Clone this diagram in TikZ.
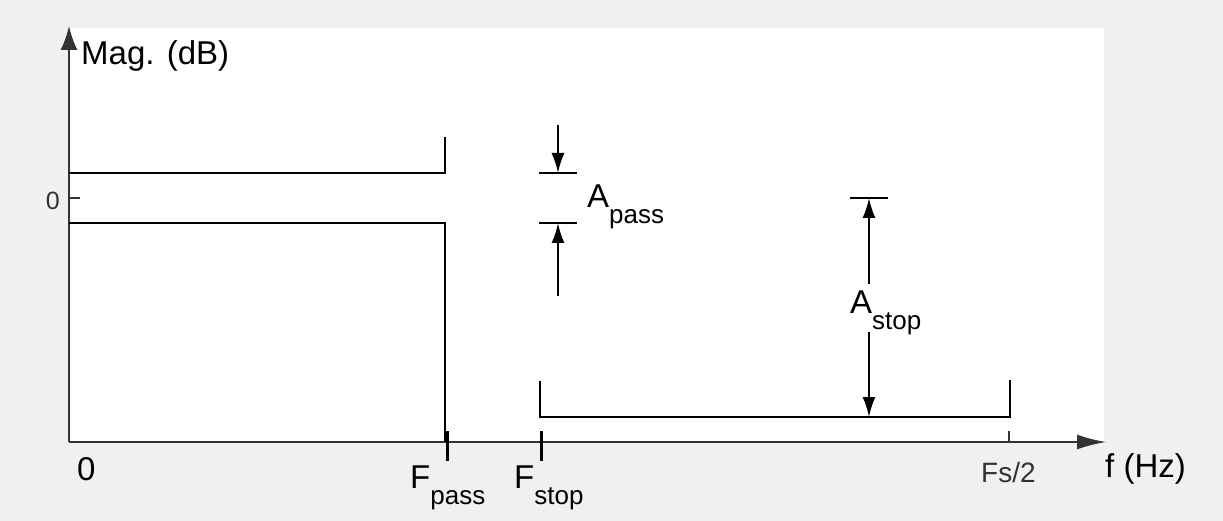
\documentclass[tikz,border=0pt]{standalone}
\usepackage{fontspec}
\setmainfont{Liberation Sans}
\usetikzlibrary{arrows.meta}
\definecolor{bggray}{HTML}{F0F0F0}
\definecolor{axisgray}{HTML}{333333}
\newcommand\bigtxt{\fontsize{33}{36}\selectfont}
\newcommand\subtxt[1]{\raisebox{-16pt}{\fontsize{26}{28}\selectfont #1}}
\begin{document}
\begin{tikzpicture}[
			x=1pt,y=-1pt,
			axis/.style={draw=axisgray,line width=2pt},
			bound/.style={draw=black,line width=2pt},
			dim/.style={draw=black,line width=2pt,-{Latex[length=20pt,width=13pt]}},
			mark tick/.style={draw=black,line width=3pt},
			lbl/.style={inner sep=0pt,anchor=base west,font=\bigtxt},
			ticklbl/.style={inner sep=0pt,text=axisgray}
		]
		\useasboundingbox (0,0) rectangle (1223,521);
		\fill[bggray] (0,0) rectangle (1223,521);
		\fill[white] (69,28) rectangle (1104,442);

		\coordinate (O) at (69,442);
		\coordinate (ytop) at (69,26);
		\coordinate (xend) at (1106,442);
		\draw[axis,-{Latex[length=24pt,width=17pt]}] (O) -- (ytop);
		\draw[axis,-{Latex[length=29pt,width=15pt]}] (O) -- (xend);

		\coordinate (zero) at (69,198);
		\draw[axis,line width=1.5pt] (zero) -- ++(11,0);
		\node[ticklbl,anchor=base east,font=\fontsize{25}{28}\selectfont] (zerolbl) at (60,210) {0};

		\coordinate (passhi) at (445,173);
		\coordinate (passlo) at (445,223);
		\draw[bound] (69,173) -- (passhi) -- (445,137);
		\draw[bound] (69,223) -- (passlo) -- (445,442);

		\coordinate (stopl) at (540,417);
		\coordinate (stopr) at (1010,417);
		\draw[bound] (540,381) -- (stopl) -- (stopr) -- (1010,380);

		\draw[mark tick] (447,431) -- (447,461);
		\draw[mark tick] (541,431) -- (541,461);
		\draw[axis,line width=1.5pt] (1009,431) -- (1009,442);

		\coordinate (aptop) at (558,125);
		\coordinate (aphi) at (558,173);
		\coordinate (aplo) at (558,223);
		\coordinate (apbot) at (558,296);
		\draw[bound] (539,173) -- (577,173);
		\draw[bound] (539,223) -- (577,223);
		\draw[dim] (aptop) -- (aphi);
		\draw[dim] (apbot) -- (aplo);

		\coordinate (ashi) at (869,198);
		\coordinate (asup) at (869,284);
		\coordinate (asdown) at (869,332);
		\draw[bound] (850,198) -- (888,198);
		\draw[dim] (asup) -- (ashi);
		\draw[dim] (asdown) -- (stopr -| ashi);

		\node[lbl] (maglbl) at (81,65) {Mag. (dB)};
		\node[lbl] (origin) at (77,480) {0};
		\node[lbl] (freqlbl) at (1105,477) {f (Hz)};
		\node[ticklbl,anchor=base west,font=\fontsize{28}{30}\selectfont] (fslbl) at (981,482) {Fs/2};
		\node[lbl] (fpass) at (410,488) {F\subtxt{pass}};
		\node[lbl] (fstop) at (514,488) {F\subtxt{stop}};
		\node[lbl] (apass) at (587,208) {A\subtxt{pass}};
		\node[lbl] (astop) at (850,313) {A\subtxt{stop}};
	\end{tikzpicture}
\end{document}
